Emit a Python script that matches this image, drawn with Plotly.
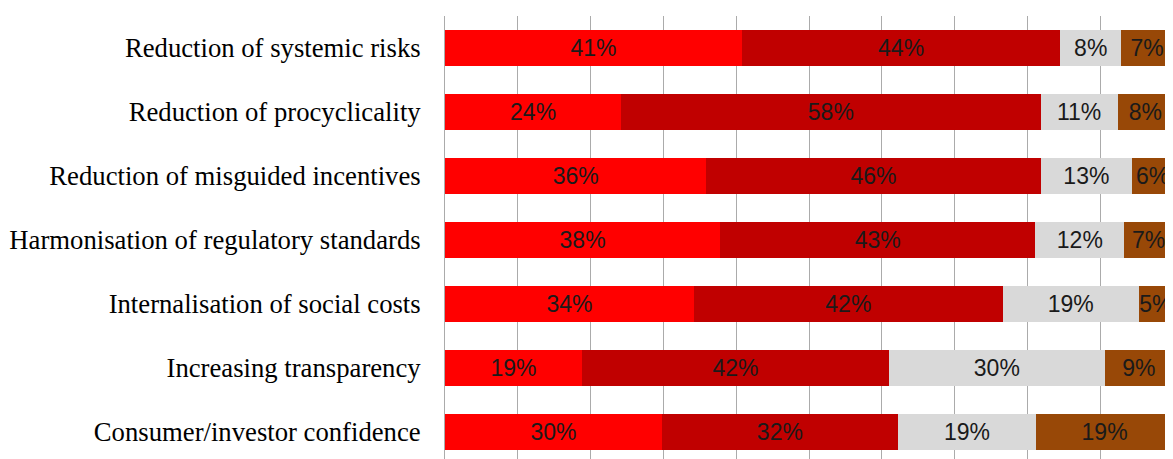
"""Stacked horizontal bar chart of survey shares per regulatory objective."""

import plotly.graph_objects as go

# Categories, top to bottom
categories = [
    "Reduction of systemic risks",
    "Reduction of procyclicality",
    "Reduction of misguided incentives",
    "Harmonisation of regulatory standards",
    "Internalisation of social costs",
    "Increasing transparency",
    "Consumer/investor confidence",
]

# Shares (%), one list per segment
share_red = [40.8, 24.2, 35.9, 37.8, 34.2, 18.8, 29.8]
share_dark_red = [43.7, 57.6, 45.9, 43.3, 42.4, 42.2, 32.4]
share_grey = [8.4, 10.6, 12.6, 12.2, 18.7, 29.6, 19.0]
share_brown = [7.1, 7.6, 5.6, 6.7, 4.7, 9.4, 18.8]

series = [
    (share_red, "#FF0000"),
    (share_dark_red, "#C00000"),
    (share_grey, "#D9D9D9"),
    (share_brown, "#984807"),
]

fig = go.Figure()

for values, colour in series:
    fig.add_trace(go.Bar(
        y=categories,
        x=values,
        orientation="h",
        marker=dict(color=colour, line=dict(width=0)),
        texttemplate="%{x:.0f}%",
        textposition="inside",
        insidetextanchor="middle",
        textangle=0,
        constraintext="none",
        textfont=dict(family="Liberation Sans Narrow, Liberation Sans, sans-serif",
                      size=23, color="#1A1A1A"),
        cliponaxis=False,
        showlegend=False,
    ))

# The page body keeps its default 8px margin, so the figure is sized to
# end exactly at the window's right and bottom edges.
fig.update_layout(
    barmode="stack",
    bargap=0.44,
    width=1165,
    height=451,
    margin=dict(l=437, r=0, t=7.5, b=0, autoexpand=False),
    plot_bgcolor="white",
    paper_bgcolor="white",
    uniformtext=dict(minsize=23, mode="show"),
    xaxis=dict(
        range=[0, 100],
        dtick=10,
        showgrid=True,
        gridcolor="#ABABAB",
        gridwidth=1,
        showticklabels=False,
        zeroline=False,
        showline=False,
        automargin=False,
    ),
    yaxis=dict(
        categoryorder="array",
        categoryarray=categories,
        range=[6.42, -0.5],
        showline=True,
        linecolor="#ABABAB",
        linewidth=1,
        showgrid=False,
        ticks="",
        ticklabelstandoff=18,
        automargin=False,
        tickfont=dict(family="Liberation Serif, Times New Roman, serif",
                      size=26.7, color="#000000"),
    ),
)

fig.write_html("out.html")
